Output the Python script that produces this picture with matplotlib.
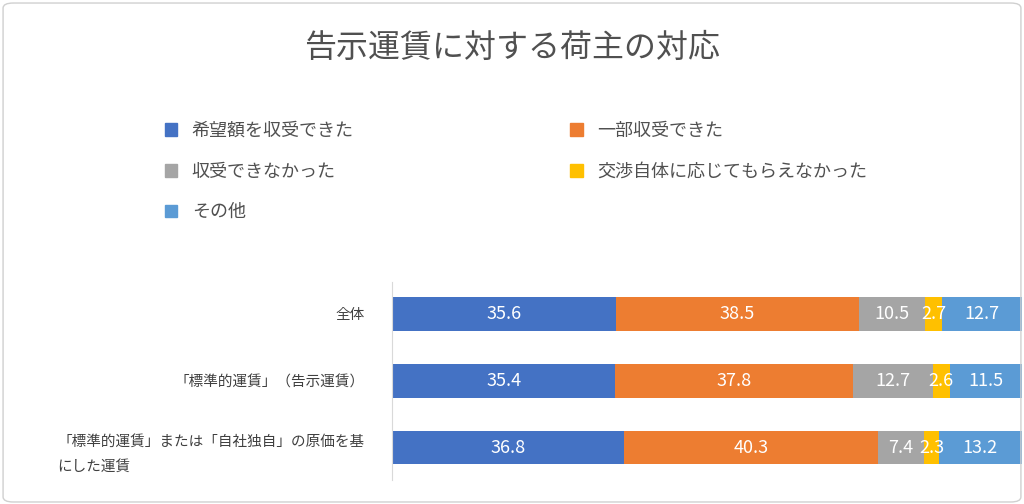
import matplotlib.pyplot as plt
from matplotlib.patches import FancyBboxPatch, Patch
import numpy as np

plt.rcParams['font.family'] = 'Noto Sans CJK JP'

categories = ['全体', '「標準的運賃」（告示運賃）', '「標準的運賃」または「自社独自」の原価を基\nにした運賃']
series_names = ['希望額を収受できた', '一部収受できた', '収受できなかった', '交渉自体に応じてもらえなかった', 'その他']
values = [
    [35.6, 35.4, 36.8],
    [38.5, 37.8, 40.3],
    [10.5, 12.7, 7.4],
    [2.7, 2.6, 2.3],
    [12.7, 11.5, 13.2],
]
colors = ['#4472C4', '#ED7D31', '#A5A5A5', '#FFC000', '#5B9BD5']

fig = plt.figure(figsize=(10.24, 5.04), dpi=100)
fig.patches.append(FancyBboxPatch((0.003, 0.004), 0.994, 0.99, boxstyle='round,pad=0,rounding_size=0.01',
                                  transform=fig.transFigure, fill=False, edgecolor='#d0d0d0', linewidth=1))
ax = fig.add_axes([0.383, 0.048, 0.615, 0.393])

y = np.arange(len(categories))
left = np.zeros(len(categories))
for name, vals, c in zip(series_names, values, colors):
    vals = np.array(vals)
    ax.barh(y, vals, left=left, height=0.5, color=c, label=name)
    for yi, l, v in zip(y, left, vals):
        ax.text(l + v / 2, yi, f'{v:.1f}', ha='center', va='center', color='white', fontsize=13)
    left += vals

ax.set_xlim(0, 100)
ax.set_ylim(2.48, -0.48)
ax.set_yticks(y)
ax.set_yticklabels(categories, fontsize=10.5, color='#404040', multialignment='left', linespacing=2.0)
ax.tick_params(axis='y', length=0, pad=20)
ax.set_xticks([])
for s in ['top', 'right', 'bottom']:
    ax.spines[s].set_visible(False)
ax.spines['left'].set_color('#d9d9d9')

fig.text(0.5, 0.905, '告示運賃に対する荷主の対応', ha='center', va='center', fontsize=23, color='#505050')
# row-wise legend order, as in the original
order = [0, 2, 4, 1, 3]
handles = [Patch(color=colors[i]) for i in order]
labels = [series_names[i] for i in order]
fig.legend(handles, labels, loc='upper left', bbox_to_anchor=(0.145, 0.79), ncol=2,
           frameon=False, fontsize=13, handlelength=0.7, handleheight=0.7,
           columnspacing=12, labelspacing=1.25, labelcolor='#505050')

fig.savefig('out.png')
